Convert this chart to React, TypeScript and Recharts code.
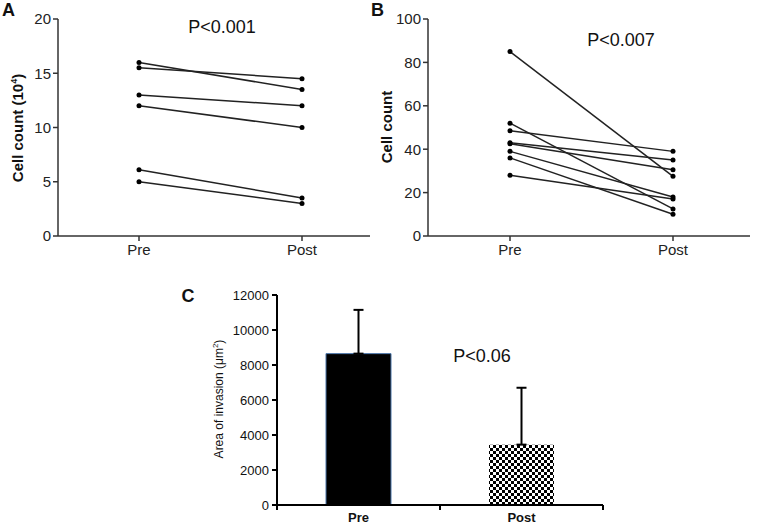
import React from 'react';
import { LineChart, Line, BarChart, Bar, Cell, ErrorBar, XAxis, YAxis } from 'recharts';

// values
const categories = ['Pre', 'Post'];
const aPre = [16, 15.5, 13, 12, 6.1, 5];
const aPost = [13.5, 14.5, 12, 10, 3.5, 3];
const aTicks = [0, 5, 10, 15, 20];
const bPre = [85, 52, 48.5, 43, 42.5, 39, 36, 28];
const bPost = [27.5, 12.5, 39, 35, 30.5, 18, 10, 17];
const bTicks = [0, 20, 40, 60, 80, 100];
const cMeans = [8650, 3450];
const cErrors = [2500, 3250];
const cTicks = [0, 2000, 4000, 6000, 8000, 10000, 12000];

const FONT = '"Liberation Sans", Arial, sans-serif';
const AXIS = '#333';

// one row per category, one key per subject
const pairedRows = (pre: number[], post: number[]) =>
    categories.map((name, i) => {
        const row: any = { name };
        pre.forEach((v, k) => {
            row['s' + k] = i === 0 ? v : post[k];
        });
        return row;
    });

const aData = pairedRows(aPre, aPost);
const bData = pairedRows(bPre, bPost);
// bars sit in the middle of unit slots so the axis can tick the slot edges
const cData = categories.map((name, i) => ({ name, pos: i + 0.5, mean: cMeans[i], err: [0, cErrors[i]] }));
const cXTicks = [0, 0.5, 1, 1.5, 2];

const tickStyle = { fontSize: 15, fill: '#222', fontFamily: FONT };

const Paired: React.FC<{ data: any[]; n: number; ticks: number[]; padL: number; padR: number; width: number; right: number }> = ({ data, n, ticks, padL, padR, width, right }) => (
    <LineChart width={width} height={270} data={data} margin={{ top: 19, right, bottom: 4, left: 0 }}>
        <XAxis
            dataKey="name"
            padding={{ left: padL, right: padR }}
            height={30}
            tick={tickStyle}
            tickSize={5}
            tickMargin={3}
            stroke={AXIS}
            strokeWidth={1.5}
        />
        <YAxis
            domain={[ticks[0], ticks[ticks.length - 1]]}
            ticks={ticks}
            width={58}
            tick={tickStyle}
            tickSize={5}
            tickMargin={2}
            stroke={AXIS}
            strokeWidth={1.5}
            interval={0}
        />
        {Array.from({ length: n }, (_, k) => (
            <Line
                key={k}
                dataKey={'s' + k}
                stroke="#222"
                strokeWidth={1.5}
                dot={{ r: 2.5, fill: '#000', stroke: '#000', strokeWidth: 0 }}
                isAnimationActive={false}
            />
        ))}
    </LineChart>
);

// integer positions get a tick mark, half positions get the category name
const SlotTick = (props: any) => {
    const { x, y, payload } = props;
    const v = payload.value;
    if (v % 1 === 0) {
        return <line x1={x} x2={x} y1={y} y2={y + 5} stroke="#000" strokeWidth={2} />;
    }
    return (
        <text x={x} y={y + 8} dy="0.71em" textAnchor="middle" fontSize={13} fontWeight="bold" fill="#111" fontFamily={FONT}>
            {categories[Math.floor(v)]}
        </text>
    );
};

const abs = (x: number, y: number, extra: React.CSSProperties = {}): React.CSSProperties => ({
    position: 'absolute',
    left: x,
    top: y,
    fontFamily: FONT,
    color: '#111',
    whiteSpace: 'nowrap',
    lineHeight: 1,
    ...extra,
});

export default function App() {
    return (
        <div style={{ position: 'absolute', left: 0, top: 0, width: 757, height: 525, background: '#fff', overflow: 'hidden' }}>
            {/* panel A */}
            <div style={{ position: 'absolute', left: 0, top: 0 }}>
                <Paired data={aData} n={aPre.length} ticks={aTicks} padL={81} padR={68} width={380} right={10} />
            </div>
            <div style={abs(2, 1, { fontSize: 18, fontWeight: 'bold' })}>A</div>
            <div style={abs(17, 128, { fontSize: 15, fontWeight: 'bold', transform: 'translate(-50%, -50%) rotate(-90deg)' })}>
                Cell count (10<sup style={{ fontSize: 9 }}>4</sup>)
            </div>
            <div style={abs(222, 18, { fontSize: 18, transform: 'translateX(-50%)' })}>P&lt;0.001</div>

            {/* panel B */}
            <div style={{ position: 'absolute', left: 370, top: 0 }}>
                <Paired data={bData} n={bPre.length} ticks={bTicks} padL={82} padR={77} width={387} right={7} />
            </div>
            <div style={abs(371, 1, { fontSize: 18, fontWeight: 'bold' })}>B</div>
            <div style={abs(386, 127, { fontSize: 15, fontWeight: 'bold', transform: 'translate(-50%, -50%) rotate(-90deg)' })}>
                Cell count
            </div>
            <div style={abs(621, 31, { fontSize: 18, transform: 'translateX(-50%)' })}>P&lt;0.007</div>

            {/* panel C */}
            <div style={{ position: 'absolute', left: 160, top: 280 }}>
                <BarChart width={450} height={245} data={cData} margin={{ top: 15, right: 7, bottom: 0, left: 0 }} barSize={65}>
                    <defs>
                        <pattern id="checker" width={6} height={6} patternUnits="userSpaceOnUse">
                            <rect width={6} height={6} fill="#fff" />
                            <rect width={3} height={3} fill="#000" />
                            <rect x={3} y={3} width={3} height={3} fill="#000" />
                        </pattern>
                    </defs>
                    <XAxis
                        dataKey="pos"
                        type="number"
                        domain={[0, categories.length]}
                        ticks={cXTicks}
                        interval={0}
                        height={20}
                        tickLine={false}
                        tickSize={0}
                        tickMargin={0}
                        tick={<SlotTick />}
                        stroke="#000"
                        strokeWidth={2}
                    />
                    <YAxis
                        domain={[0, 12000]}
                        ticks={cTicks}
                        width={117}
                        interval={0}
                        tick={{ fontSize: 13, fill: '#111', fontFamily: FONT }}
                        tickSize={5}
                        tickMargin={3}
                        stroke="#000"
                        strokeWidth={2}
                    />
                    <Bar dataKey="mean" isAnimationActive={false}>
                        <Cell fill="#000" stroke="#4a74a8" strokeWidth={1} />
                        <Cell fill="url(#checker)" />
                        <ErrorBar dataKey="err" direction="y" width={5} stroke="#000" strokeWidth={2} />
                    </Bar>
                </BarChart>
            </div>
            <div style={abs(188, 287, { fontSize: 18, fontWeight: 'bold', transform: 'translateX(-50%)' })}>C</div>
            <div style={abs(218, 399, { fontSize: 12, transform: 'translate(-50%, -50%) rotate(-90deg)' })}>
                Area of invasion (μm<sup style={{ fontSize: 8 }}>2</sup>)
            </div>
            <div style={abs(482, 347, { fontSize: 18, transform: 'translateX(-50%)' })}>P&lt;0.06</div>
        </div>
    );
}
